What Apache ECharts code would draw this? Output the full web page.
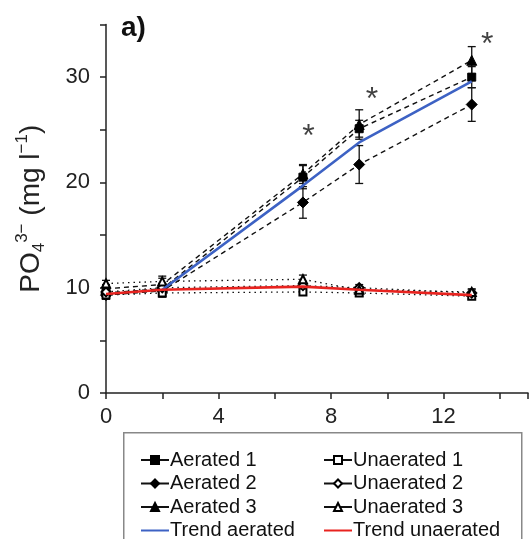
<!DOCTYPE html>
<html>
<head>
<meta charset="utf-8">
<script src="https://cdn.jsdelivr.net/npm/echarts@6/dist/echarts.min.js"></script>
<style>
  html, body { margin: 0; padding: 0; background: #fff; }
  #chart { width: 531px; height: 539px; }
</style>
</head>
<body>
<div id="chart"></div>
<script>
// sampling days
const days = [0, 2, 7, 9, 13];

// aerated replicates (mean, sd)
const aer1 = [9.5, 9.9, 20.5, 25.1, 30.0];
const aer1Err = [0.4, 0.5, 1.1, 0.8, 1.0];
const aer2 = [9.3, 9.7, 18.1, 21.7, 27.4];
const aer2Err = [0.4, 0.5, 1.5, 1.8, 1.6];
const aer3 = [9.9, 10.3, 20.8, 25.5, 31.6];
const aer3Err = [0.4, 0.6, 0.9, 1.4, 1.3];

// unaerated replicates
const una1 = [9.3, 9.5, 9.6, 9.5, 9.2];
const una1Err = [0.3, 0.4, 0.3, 0.3, 0.3];
const una2 = [9.6, 10.0, 10.2, 10.0, 9.5];
const una2Err = [0.3, 0.4, 0.4, 0.3, 0.3];
const una3 = [10.4, 10.6, 10.8, 9.8, 9.6];
const una3Err = [0.3, 0.5, 0.4, 0.3, 0.3];

// trends
const trendAer = [null, 9.8, 19.7, 23.8, 29.6];
const trendUna = [9.4, 9.8, 10.1, 9.8, 9.3];

// significance marks
const sigDays = [7.2, 9.45, 13.55];
const sigLevel = [25.0, 28.5, 33.7];

const xTicks = [0, 4, 8, 12];
const yTicks = [0, 10, 20, 30];

const chart = echarts.init(document.getElementById('chart'));

function pts(ys) {
  const out = [];
  ys.forEach((y, i) => { if (y != null) out.push([days[i], y]); });
  return out;
}
function errs(ys, es) {
  return ys.map((y, i) => [days[i], y - es[i], y + es[i]]);
}
function renderErr(params, api) {
  const x = api.value(0);
  const lo = api.coord([x, api.value(1)]);
  const hi = api.coord([x, api.value(2)]);
  const w = 4;
  const st = { stroke: '#111', lineWidth: 1.3 };
  return {
    type: 'group',
    children: [
      { type: 'line', shape: { x1: lo[0], y1: lo[1], x2: hi[0], y2: hi[1] }, style: st },
      { type: 'line', shape: { x1: lo[0] - w, y1: lo[1], x2: lo[0] + w, y2: lo[1] }, style: st },
      { type: 'line', shape: { x1: hi[0] - w, y1: hi[1], x2: hi[0] + w, y2: hi[1] }, style: st }
    ]
  };
}
function errSeries(ys, es) {
  return {
    type: 'custom', renderItem: renderErr, data: errs(ys, es),
    encode: { x: 0, y: [1, 2] }, z: 1, silent: true
  };
}
function repSeries(name, ys, symbol, size, dash) {
  return {
    name: name, type: 'line', data: pts(ys), symbol: symbol, symbolSize: size,
    showSymbol: true, z: 3,
    itemStyle: { color: '#000', borderColor: '#000', borderWidth: 1 },
    lineStyle: { color: '#111', width: dash === 'dot' ? 1.3 : 1.4, type: dash === 'dot' ? [1.5, 4] : [5, 4] }
  };
}

const hideSym = { color: 'rgba(0,0,0,0)', borderWidth: 0 };
const legendText = { fontSize: 20, lineHeight: 20, color: '#111', padding: [0, 0, 0, -4] };

const option = {
  animation: false,
  backgroundColor: '#fff',
  textStyle: { fontFamily: 'Liberation Sans' },
  grid: { left: 106, top: 24.5, width: 427, height: 368.5, containLabel: false },
  xAxis: {
    type: 'value', min: 0, max: 15, interval: 2,
    axisLine: { lineStyle: { color: '#222', width: 1.5 } },
    axisTick: { length: 6, lineStyle: { color: '#222', width: 1.5 } },
    axisLabel: {
      color: '#222', fontSize: 22, margin: 13,
      formatter: v => (xTicks.indexOf(v) >= 0 ? String(v) : '')
    },
    splitLine: { show: false }
  },
  yAxis: {
    type: 'value', min: 0, max: 35, interval: 5,
    axisLine: { show: true, lineStyle: { color: '#222', width: 1.5 } },
    axisTick: { show: true, length: 6, lineStyle: { color: '#222', width: 1.5 } },
    axisLabel: {
      color: '#222', fontSize: 22, margin: 16,
      formatter: v => (yTicks.indexOf(v) >= 0 ? String(v) : '')
    },
    splitLine: { show: false },
    name: '{a|PO}{sub|4}{sup|3\u2212}{a| (mg l}{sup|\u22121}{a|)}',
    nameLocation: 'middle', nameRotate: 90, nameGap: 58,
    nameTextStyle: {
      rich: {
        a: { fontSize: 28, color: '#222', lineHeight: 34, fontFamily: 'Liberation Sans' },
        sub: { fontSize: 17, color: '#222', lineHeight: 17, verticalAlign: 'bottom', fontFamily: 'Liberation Sans' },
        sup: { fontSize: 17, color: '#222', lineHeight: 17, verticalAlign: 'top', fontFamily: 'Liberation Sans' }
      }
    }
  },
  graphic: [
    {
      type: 'rect', left: 123, top: 432, z: 50,
      shape: { width: 398, height: 120 },
      style: { fill: '#fff', stroke: '#888', lineWidth: 1.5 }
    },
    {
      type: 'text', left: 121, top: 14, z: 50,
      style: { text: 'a)', fontSize: 28, fontWeight: 'bold', fill: '#111', fontFamily: 'Liberation Sans' }
    }
  ],
  legend: [
    {
      left: 135, top: 445, height: 110, orient: 'vertical', itemWidth: 28, itemHeight: 10, itemGap: 3.5, z: 60,
      textStyle: legendText,
      lineStyle: { type: 'solid' },
      data: ['Aerated 1', 'Aerated 2', 'Aerated 3', { name: 'Trend aerated', itemStyle: hideSym }]
    },
    {
      left: 318, top: 445, height: 110, orient: 'vertical', itemWidth: 28, itemHeight: 10, itemGap: 3.5, z: 60,
      textStyle: legendText,
      lineStyle: { type: 'solid' },
      data: ['Unaerated 1', 'Unaerated 2', 'Unaerated 3', { name: 'Trend unaerated', itemStyle: hideSym }]
    }
  ],
  series: [
    errSeries(aer1, aer1Err), errSeries(aer2, aer2Err), errSeries(aer3, aer3Err),
    errSeries(una1, una1Err), errSeries(una2, una2Err), errSeries(una3, una3Err),
    repSeries('Aerated 1', aer1, 'rect', 8, 'dash'),
    repSeries('Aerated 2', aer2, 'diamond', 11, 'dash'),
    repSeries('Aerated 3', aer3, 'triangle', 10, 'dash'),
    repSeries('Unaerated 1', una1, 'emptyRect', 7, 'dot'),
    repSeries('Unaerated 2', una2, 'emptyDiamond', 9, 'dot'),
    repSeries('Unaerated 3', una3, 'emptyTriangle', 8, 'dot'),
    {
      name: 'Trend aerated', type: 'line', data: pts(trendAer), symbol: 'none', z: 4,
      lineStyle: { color: '#3d62c4', width: 2.6 }, itemStyle: { color: '#3d62c4' }
    },
    {
      name: 'Trend unaerated', type: 'line', data: pts(trendUna), symbol: 'none', z: 4,
      lineStyle: { color: '#e8231f', width: 2.6 }, itemStyle: { color: '#e8231f' }
    },
    {
      name: 'sig', type: 'scatter', symbolSize: 1, z: 5,
      itemStyle: { color: 'rgba(0,0,0,0)' },
      data: sigDays.map((d, i) => [d, sigLevel[i]]),
      label: {
        show: true, position: 'inside', formatter: '*', offset: [0, 7],
        fontSize: 32, color: '#111', fontFamily: 'Liberation Sans'
      }
    }
  ]
};

chart.setOption(option);
</script>
</body>
</html>
